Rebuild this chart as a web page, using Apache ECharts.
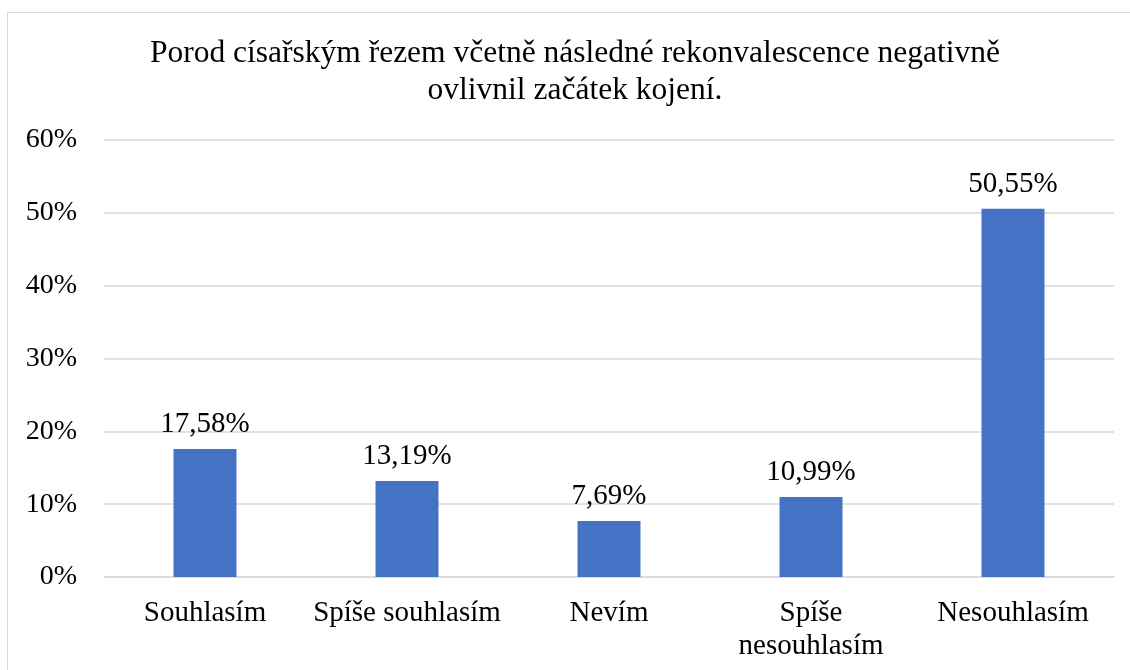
<!DOCTYPE html>
<html>
<head>
<meta charset="utf-8">
<script src="https://cdn.jsdelivr.net/npm/echarts@6/dist/echarts.min.js"></script>
<style>
    html, body {
        margin: 0;
        padding: 0;
        background: #fff;
    }
    .com-container {
        position: relative;
        width: 1130px;
        height: 670px;
        overflow: hidden;
    }
    .com-frame {
        position: absolute;
        left: 7px;
        top: 12px;
        width: 1140px;
        height: 680px;
        border: 1px solid #d9d9d9;
    }
    .com-chart {
        position: absolute;
        left: 0;
        top: 0;
        width: 1130px;
        height: 670px;
    }
</style>
</head>
<body>
<div class="com-container">
    <div class="com-frame"></div>
    <div class="com-chart" id="chart"></div>
</div>
<script>
const titleText = 'Porod císařským řezem včetně následné rekonvalescence negativně\novlivnil začátek kojení.'
const categories = ['Souhlasím', 'Spíše souhlasím', 'Nevím', 'Spíše\nnesouhlasím', 'Nesouhlasím']
const values = [17.58, 13.19, 7.69, 10.99, 50.55]
const yTicks = [0, 10, 20, 30, 40, 50, 60]

const font = '"Liberation Serif", "Times New Roman", serif'

const chartInstance = echarts.init(document.getElementById('chart'))
chartInstance.setOption({
    animation: false,
    title: {
        text: titleText,
        left: 575,
        textAlign: 'center',
        top: 35,
        padding: 0,
        textStyle: {
            fontFamily: font,
            fontSize: 31.5,
            fontWeight: 'normal',
            color: '#000',
            lineHeight: 37
        }
    },
    grid: {
        top: 140,
        left: 104,
        right: 16,
        bottom: 93,
        containLabel: false
    },
    xAxis: {
        type: 'category',
        data: categories,
        axisLine: { lineStyle: { color: '#d9d9d9', width: 1.5 } },
        axisTick: { show: false },
        axisLabel: {
            margin: 20,
            fontFamily: font,
            fontSize: 29,
            color: '#000',
            lineHeight: 33,
            interval: 0
        }
    },
    yAxis: {
        type: 'value',
        min: yTicks[0],
        max: yTicks[yTicks.length - 1],
        interval: 10,
        axisLine: { show: false },
        axisTick: { show: false },
        splitLine: { lineStyle: { color: '#d9d9d9', width: 1.5 } },
        axisLabel: {
            margin: 27,
            fontFamily: font,
            fontSize: 28,
            color: '#000',
            formatter: v => v + '%'
        }
    },
    series: [{
        type: 'bar',
        data: values,
        barWidth: 63,
        itemStyle: { color: '#4472C4' },
        label: {
            show: true,
            position: 'top',
            distance: 10,
            fontFamily: font,
            fontSize: 29,
            color: '#000',
            formatter: p => p.value.toFixed(2).replace('.', ',') + '%'
        }
    }]
})
</script>
</body>
</html>
